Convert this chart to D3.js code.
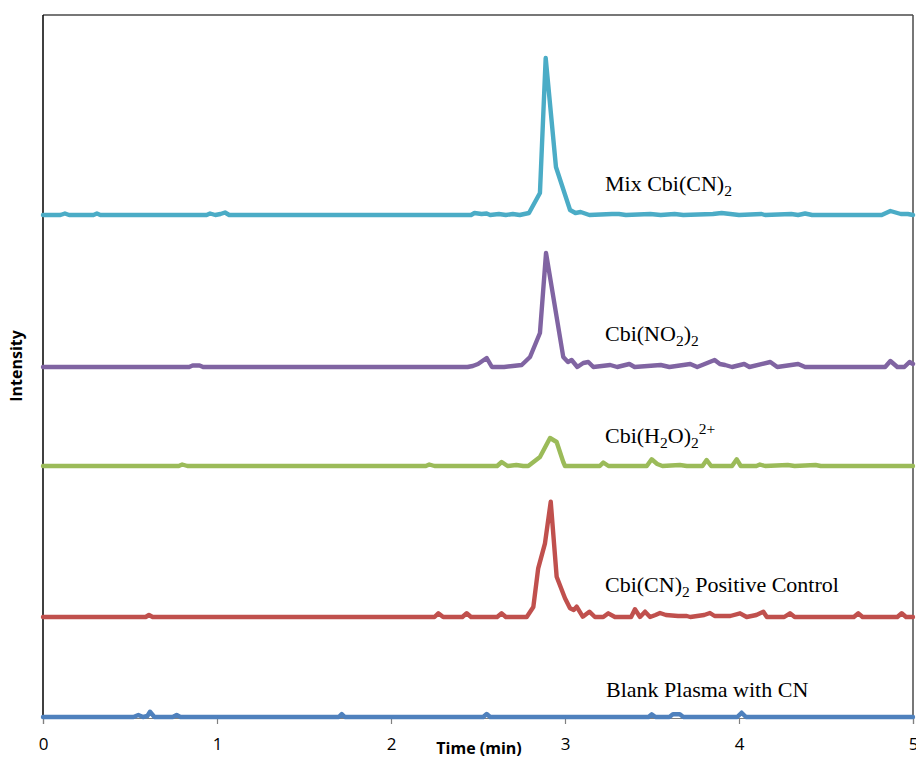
<!DOCTYPE html>
<html><head><meta charset="utf-8">
<script src="https://cdn.jsdelivr.net/npm/d3@7"></script>
<style>body{margin:0;background:#fff}</style>
</head><body>
<svg id="chart" width="916" height="761"></svg>
<script>
// ---- data (time in min, intensity relative to each trace's baseline) ----
const xTicks = [0, 1, 2, 3, 4, 5];
const seriesNames = ["Blank Plasma with CN", "Cbi(CN)2 Positive Control", "Cbi(H2O)2 2+", "Cbi(NO2)2", "Mix Cbi(CN)2"];
const seriesColors = ["#4F81BD", "#C0504D", "#9BBB59", "#8064A2", "#4BACC6"];
const seriesOffsets = [0, 100, 251, 350, 502];

const blank = [[0,0],[0.52,0],[0.548,2],[0.575,0],[0.60,1],[0.615,5.3],[0.64,0],[0.745,0],[0.768,2],[0.79,0],[1.70,0],[1.717,3],[1.735,0],[2.53,0],[2.55,3],[2.57,0],[3.48,0],[3.498,2.7],[3.52,0],[3.60,0],[3.62,2.7],[3.66,2.7],[3.68,0],[3.99,0],[4.015,4.3],[4.04,0],[5,0]];
const positive = [[0,0],[0.59,0],[0.609,2],[0.63,0],[2.25,0],[2.272,3.7],[2.30,0],[2.41,0],[2.435,3.7],[2.46,0],[2.61,0],[2.636,3.7],[2.66,0],[2.78,0],[2.818,10],[2.846,48.7],[2.885,73.7],[2.918,115.3],[2.952,40.3],[3.0,18.7],[3.029,8.7],[3.05,7],[3.067,10.3],[3.102,0.3],[3.14,5.3],[3.172,0],[3.22,0],[3.249,3.7],[3.287,0],[3.38,0],[3.402,7.7],[3.431,0],[3.46,5.3],[3.489,0],[3.52,2],[3.546,4],[3.58,2],[3.65,1],[3.70,1],[3.72,0],[3.80,2],[3.833,4],[3.86,1],[3.95,1],[4.006,3.7],[4.044,0],[4.10,2],[4.14,5.3],[4.16,0],[4.26,0],[4.293,3.7],[4.32,0],[4.66,0],[4.686,3.7],[4.71,0],[4.91,0],[4.935,3.7],[4.96,0],[5,0]];
const aqua = [[0,0],[0.78,0],[0.80,1.5],[0.83,0],[2.20,0],[2.22,1.5],[2.25,0],[2.61,0],[2.636,4],[2.67,0],[2.72,1],[2.76,0],[2.789,0],[2.856,9],[2.914,28],[2.952,24],[2.99,4],[3.0,0],[3.20,0],[3.22,3.5],[3.25,0],[3.47,0],[3.498,6.7],[3.53,2],[3.56,0],[3.66,1],[3.70,0],[3.79,0],[3.814,6],[3.84,0],[3.96,0],[3.987,6.7],[4.01,0],[4.10,0],[4.12,1.5],[4.15,0],[4.28,1],[4.32,0],[4.44,1],[4.47,0],[5,0]];
const nitro = [[0,0],[0.84,0],[0.86,1.5],[0.90,1.5],[0.92,0],[2.44,0],[2.47,1],[2.50,3],[2.55,9],[2.58,0],[2.65,0],[2.70,1],[2.751,2],[2.799,10],[2.856,34],[2.891,114],[2.99,10],[3.017,5],[3.038,7],[3.071,0],[3.105,4],[3.134,5],[3.163,0],[3.26,2],[3.30,0],[3.37,3],[3.40,0],[3.55,2],[3.60,0],[3.72,3],[3.76,0],[3.86,7],[3.89,3],[3.92,2],[3.96,0],[4.03,3],[4.06,0],[4.18,5],[4.22,0],[4.34,3],[4.38,0],[4.84,0],[4.87,6],[4.91,0],[4.95,0],[4.98,5],[5,3]];
const mix = [[0,0],[0.10,0],[0.126,1.5],[0.15,0],[0.29,0],[0.31,1.5],[0.33,0],[0.94,0],[0.96,1.5],[0.99,0],[1.02,1],[1.046,2.5],[1.07,0],[2.46,0],[2.48,2],[2.52,1],[2.55,1.5],[2.57,0],[2.62,1],[2.66,0],[2.70,1],[2.74,0],[2.793,2],[2.856,22],[2.889,157],[2.948,48],[3.029,5],[3.06,2],[3.09,3],[3.14,0],[3.27,1],[3.31,1],[3.35,0],[3.49,1],[3.55,0],[3.63,1],[3.68,0],[3.85,1],[3.90,2],[3.95,1],[4.0,0],[4.13,1],[4.15,0],[4.30,1],[4.34,0],[4.38,1.5],[4.42,0],[4.82,0],[4.87,4],[4.93,1],[4.97,1],[5,0]];
const seriesData = [blank, positive, aqua, nitro, mix];

// ---- layout ----
const svg = d3.select("#chart");
const plotL = 43, plotR = 913, plotT = 15, plotB = 718;
const x = d3.scaleLinear().domain([0, 5]).range([plotL, plotR]);
const y = d3.scaleLinear().domain([0, 702]).range([717, 15]);

// frame top/right
svg.append("line").attr("x1", plotL).attr("x2", plotR).attr("y1", plotT).attr("y2", plotT)
  .attr("stroke", "#4a4a4a").attr("stroke-width", 1.5);
svg.append("line").attr("x1", plotR).attr("x2", plotR).attr("y1", plotT).attr("y2", plotB)
  .attr("stroke", "#4a4a4a").attr("stroke-width", 1.5);

// x axis
const xAxis = svg.append("g").attr("transform", `translate(0,${plotB})`)
  .call(d3.axisBottom(x).tickValues(xTicks).tickFormat(d3.format("d")).tickSize(6).tickPadding(14));
xAxis.select(".domain").attr("stroke", "#808080").attr("stroke-width", 1.2);
xAxis.selectAll(".tick line").attr("stroke", "#808080").attr("stroke-width", 1.2);
xAxis.selectAll(".tick text").attr("font-family", "'Open Sans', sans-serif").attr("font-size", 17).attr("fill", "#000");

// left axis line
svg.append("line").attr("x1", plotL).attr("x2", plotL).attr("y1", plotT).attr("y2", plotB)
  .attr("stroke", "#000").attr("stroke-width", 1.5);

// traces
const line = d3.line().x(d => x(d[0])).y(d => d[1]);
seriesData.forEach((s, i) => {
  const pts = s.map(d => [d[0], y(d[1] + seriesOffsets[i])]);
  svg.append("path").datum(pts).attr("d", line)
    .attr("fill", "none").attr("stroke", seriesColors[i]).attr("stroke-width", 4.4)
    .attr("stroke-linejoin", "round").attr("stroke-linecap", "round");
});

// trace labels
const lab = svg.append("g").attr("font-family", "'Liberation Serif', 'Times New Roman', serif").attr("font-size", 22).attr("fill", "#000");
function label(xp, yp, parts) {
  const t = lab.append("text").attr("x", xp).attr("y", yp);
  parts.forEach(p => {
    const ts = t.append("tspan").text(p[0]);
    if (p[1] === "sub") ts.attr("font-size", 15.5).attr("dy", 5);
    else if (p[1] === "sup") ts.attr("font-size", 15.5).attr("dy", -14);
    else if (p[1] === "back") ts.attr("dy", -5);
  });
  return t;
}
label(605, 191, [["Mix Cbi(CN)"], ["2", "sub"]]);
label(605, 341, [["Cbi(NO"], ["2", "sub"], [")", "back"], ["2", "sub"]]);
label(605, 443, [["Cbi(H"], ["2", "sub"], ["O)", "back"], ["2", "sub"], ["2+", "sup"]]);
label(605, 592, [["Cbi(CN)"], ["2", "sub"], [" Positive Control", "back"]]);
label(606, 697, [["Blank Plasma with CN"]]);

// axis titles
svg.append("text").attr("x", 479).attr("y", 754).attr("text-anchor", "middle")
  .attr("font-family", "'Open Sans', sans-serif").attr("font-weight", "bold").attr("font-size", 16)
  .text("Time (min)");
svg.append("text").attr("transform", "translate(22,366) rotate(-90)").attr("text-anchor", "middle")
  .attr("font-family", "'Open Sans', sans-serif").attr("font-weight", "bold").attr("font-size", 16)
  .text("Intensity");
</script>
</body></html>
